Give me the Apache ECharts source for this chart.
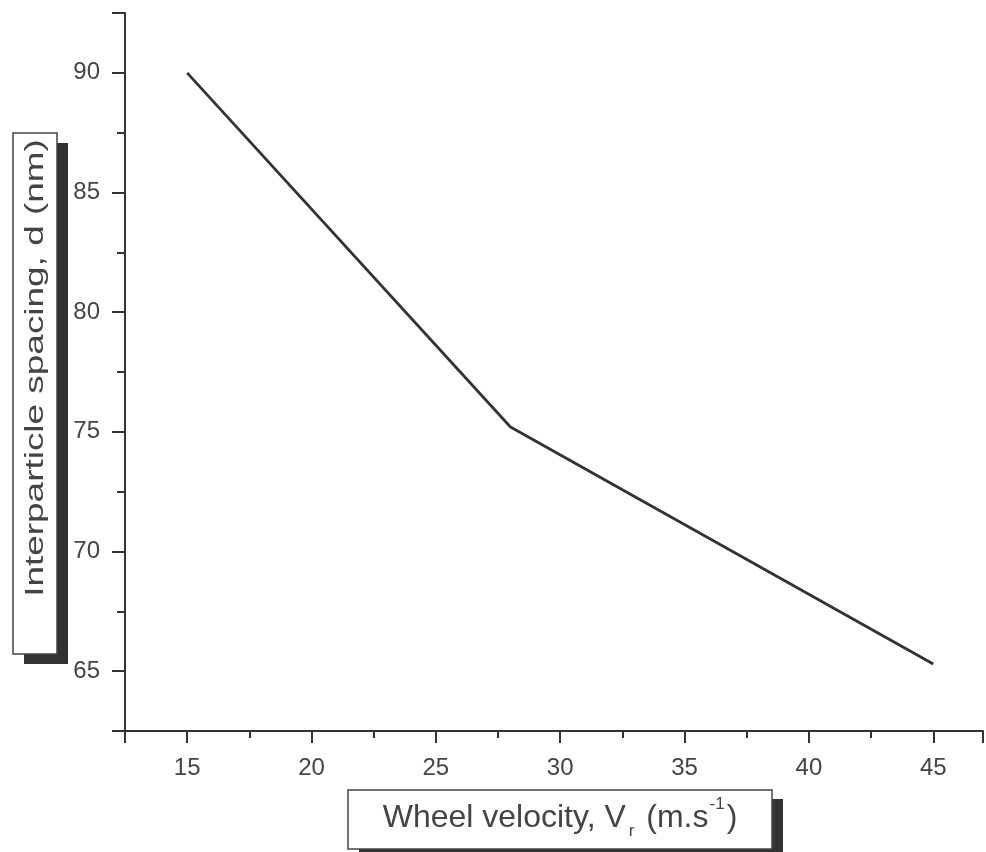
<!DOCTYPE html>
<html lang="en">
<head>
    <meta charset="UTF-8">
    <title>Interparticle spacing vs wheel velocity</title>
    <script src="https://cdn.jsdelivr.net/npm/echarts@6/dist/echarts.min.js"></script>
    <style>
        html, body { margin: 0; padding: 0; background: #fff; }
    </style>
</head>
<body>
<div id="chart" style="width:986px; height:852px;"></div>
<script type="text/javascript">
    // data
    var wheelVelocity = [15, 28, 45];
    var spacing = [90, 75.2, 65.3];
    var xTitle = 'Wheel velocity, V{sub|r} (m.s{sup|-1})';
    var yTitle = 'Interparticle spacing, d (nm)';

    var FONT = '"Liberation Sans", Arial, sans-serif';
    var INK = '#333';

    var pts = [];
    for (var i = 0; i < wheelVelocity.length; i++) {
        pts.push([wheelVelocity[i], spacing[i]]);
    }

    var myChart = echarts.init(document.getElementById('chart'));
    myChart.setOption({
        animation: false,
        backgroundColor: '#fff',
        grid: {left: 125, right: 3, top: 13, bottom: 121},
        xAxis: {
            type: 'value',
            min: 12.5,
            max: 47,
            splitNumber: 7,
            minInterval: 5,
            maxInterval: 5,
            axisLine: {show: true, onZero: false, lineStyle: {color: INK, width: 2}},
            axisTick: {show: true, length: 12, lineStyle: {color: INK, width: 2}},
            minorTick: {show: true, splitNumber: 2, length: 7, lineStyle: {color: INK, width: 2}},
            splitLine: {show: false},
            axisLabel: {
                margin: 25, fontSize: 24, color: '#444', fontFamily: FONT,
                showMinLabel: false, showMaxLabel: false
            }
        },
        yAxis: {
            type: 'value',
            min: 62.5,
            max: 92.5,
            splitNumber: 6,
            minInterval: 5,
            maxInterval: 5,
            axisLine: {show: true, onZero: false, lineStyle: {color: INK, width: 2}},
            axisTick: {show: true, length: 13, lineStyle: {color: INK, width: 2}},
            minorTick: {show: true, splitNumber: 2, length: 8, lineStyle: {color: INK, width: 2}},
            splitLine: {show: false},
            axisLabel: {
                margin: 25, fontSize: 24, color: '#444', fontFamily: FONT,
                showMinLabel: false, showMaxLabel: false
            }
        },
        series: [{
            type: 'line',
            data: pts,
            symbol: 'none',
            lineStyle: {color: INK, width: 2.8}
        }],
        graphic: [
            // y title box with drop shadow
            {type: 'rect', shape: {x: 24, y: 143, width: 44, height: 521}, style: {fill: '#333'}},
            {type: 'rect', shape: {x: 13, y: 133, width: 44, height: 521}, style: {fill: '#fff', stroke: '#444', lineWidth: 1.5}},
            {
                type: 'text', x: 36, y: 368, rotation: Math.PI / 2, scaleX: 1.42,
                style: {
                    text: yTitle, fill: '#444', font: '26px ' + FONT,
                    align: 'center', verticalAlign: 'middle'
                }
            },
            // x title box with drop shadow
            {type: 'rect', shape: {x: 359, y: 799, width: 424, height: 62}, style: {fill: '#333'}},
            {type: 'rect', shape: {x: 348, y: 790, width: 424, height: 59}, style: {fill: '#fff', stroke: '#444', lineWidth: 1.5}},
            {
                type: 'text', x: 560, y: 818,
                style: {
                    text: xTitle, fill: '#444', fontSize: 32, fontFamily: FONT, lineHeight: 44,
                    align: 'center', verticalAlign: 'middle',
                    rich: {
                        sub: {fontSize: 17, fill: '#444', fontFamily: FONT, verticalAlign: 'bottom', lineHeight: 12, padding: [0, 3, 0, 3]},
                        sup: {fontSize: 17, fill: '#444', fontFamily: FONT, verticalAlign: 'top', lineHeight: 20, padding: [0, 2, 0, 1]}
                    }
                }
            }
        ]
    });
</script>
</body>
</html>
